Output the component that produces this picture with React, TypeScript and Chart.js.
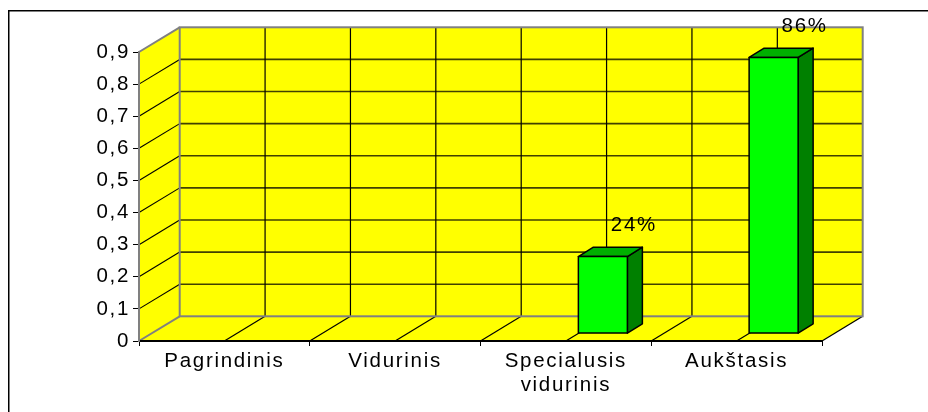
import { useEffect, useRef } from 'react';
import { Chart, registerables } from 'chart.js';

Chart.register(...registerables);

const categories: (string | string[])[] = ['Pagrindinis', 'Vidurinis', ['Specialusis', 'vidurinis'], 'Aukštasis'];
const values = [0, 0, 0.24, 0.86];
const valueLabels = ['', '', '24%', '86%'];
const yTickLabels = ['0', '0,1', '0,2', '0,3', '0,4', '0,5', '0,6', '0,7', '0,8', '0,9'];
const Y_MIN = 0;
const Y_MAX = 0.9;
const Y_STEP = 0.1;

const FONT_FAMILY = '"Liberation Sans", Arial, sans-serif';
const FONT_SIZE = 20.5;
const LETTER_SPACING = '1.7px';

// 3D projection styling
const DX = 40.7;
const DY = -24.7;
const BAR_SHIFT_X = 37;
const BAR_SHIFT_Y = -7.4;
const BAR_DX = 15;
const BAR_DY = -9.3;

const WALL = '#ffff00';
const WALL_EDGE = '#808080';

const threeD = {
  id: 'threeD',
  beforeDraw(chart: any) {
    const ctx: CanvasRenderingContext2D = chart.ctx;
    (ctx as any).letterSpacing = LETTER_SPACING;
    ctx.save();
    ctx.fillStyle = '#ffffff';
    ctx.fillRect(0, 0, chart.width, chart.height);
    // outer frame
    ctx.lineWidth = 1.5;
    ctx.strokeStyle = '#000000';
    ctx.beginPath();
    ctx.moveTo(8.75, chart.height + 5);
    ctx.lineTo(8.75, 10.75);
    ctx.lineTo(chart.width + 5, 10.75);
    ctx.stroke();

    const xs = chart.scales.x;
    const ys = chart.scales.y;
    const left = chart.chartArea.left;
    const right = chart.chartArea.right;
    const yb = ys.getPixelForValue(Y_MIN);
    const yt = ys.getPixelForValue(Y_MAX);

    // walls fill
    ctx.fillStyle = WALL;
    ctx.beginPath();
    ctx.moveTo(left, yb);
    ctx.lineTo(left, yt);
    ctx.lineTo(left + DX, yt + DY);
    ctx.lineTo(right + DX, yt + DY);
    ctx.lineTo(right + DX, yb + DY);
    ctx.lineTo(right, yb);
    ctx.closePath();
    ctx.fill();

    // half-category positions
    const n = categories.length;
    const halfs: number[] = [];
    for (let i = 0; i < n; i++) {
      const c = xs.getPixelForTick(i);
      const prev = i === 0 ? left : (xs.getPixelForTick(i - 1) + c) / 2;
      halfs.push(prev, c);
    }
    halfs.push(right);

    // horizontal gridlines on back wall and left wall diagonals
    for (let v = Y_STEP; v < Y_MAX - 1e-6; v += Y_STEP) {
      const y = ys.getPixelForValue(v);
      ctx.strokeStyle = '#404000';
      ctx.lineWidth = 1.6;
      ctx.beginPath();
      ctx.moveTo(left + DX, y + DY);
      ctx.lineTo(right + DX, y + DY);
      ctx.stroke();
      ctx.strokeStyle = '#000000';
      ctx.lineWidth = 1.1;
      ctx.beginPath();
      ctx.moveTo(left, y);
      ctx.lineTo(left + DX, y + DY);
      ctx.stroke();
    }

    // vertical lines on back wall and floor diagonals
    ctx.strokeStyle = '#000000';
    ctx.lineWidth = 1.2;
    for (let k = 1; k < halfs.length - 1; k++) {
      const x = halfs[k];
      ctx.beginPath();
      ctx.moveTo(x + DX, yt + DY);
      ctx.lineTo(x + DX, yb + DY);
      ctx.stroke();
      ctx.beginPath();
      ctx.moveTo(x, yb);
      ctx.lineTo(x + DX, yb + DY);
      ctx.stroke();
    }
    // floor right edge
    ctx.lineWidth = 1.3;
    ctx.beginPath();
    ctx.moveTo(right, yb);
    ctx.lineTo(right + DX, yb + DY);
    ctx.stroke();

    // gray edges
    ctx.strokeStyle = WALL_EDGE;
    ctx.lineWidth = 2;
    ctx.strokeRect(left + DX, yt + DY, right - left, yb - yt);
    ctx.beginPath();
    ctx.moveTo(left, yt);
    ctx.lineTo(left + DX, yt + DY);
    ctx.moveTo(left, yb);
    ctx.lineTo(left + DX, yb + DY);
    ctx.stroke();
    ctx.restore();
  },
  afterDatasetsDraw(chart: any) {
    const ctx: CanvasRenderingContext2D = chart.ctx;
    const meta = chart.getDatasetMeta(0);
    ctx.save();
    (ctx as any).letterSpacing = LETTER_SPACING;
    meta.data.forEach((el: any, i: number) => {
      if (!values[i]) return;
      const p = el.getProps(['x', 'y', 'base', 'width'], true);
      const x1 = p.x - p.width / 2 + BAR_SHIFT_X;
      const x2 = p.x + p.width / 2 + BAR_SHIFT_X;
      const yTop = p.y + BAR_SHIFT_Y;
      const yBase = p.base + BAR_SHIFT_Y;
      ctx.lineWidth = 1.5;
      ctx.lineJoin = 'round';
      ctx.strokeStyle = '#000000';
      // side
      ctx.fillStyle = '#008000';
      ctx.beginPath();
      ctx.moveTo(x2, yTop);
      ctx.lineTo(x2 + BAR_DX, yTop + BAR_DY);
      ctx.lineTo(x2 + BAR_DX, yBase + BAR_DY);
      ctx.lineTo(x2, yBase);
      ctx.closePath();
      ctx.fill();
      ctx.stroke();
      // top
      ctx.fillStyle = '#00b000';
      ctx.beginPath();
      ctx.moveTo(x1, yTop);
      ctx.lineTo(x1 + BAR_DX, yTop + BAR_DY);
      ctx.lineTo(x2 + BAR_DX, yTop + BAR_DY);
      ctx.lineTo(x2, yTop);
      ctx.closePath();
      ctx.fill();
      ctx.stroke();
      // front
      ctx.fillStyle = '#00ff00';
      ctx.fillRect(x1, yTop, x2 - x1, yBase - yTop);
      ctx.strokeRect(x1, yTop, x2 - x1, yBase - yTop);
      // label
      if (valueLabels[i]) {
        ctx.fillStyle = '#000000';
        ctx.font = `${FONT_SIZE}px ${FONT_FAMILY}`;
        ctx.textAlign = 'center';
        ctx.textBaseline = 'alphabetic';
        ctx.fillText(valueLabels[i], (x1 + x2) / 2 + 31, yTop + BAR_DY - 16);
      }
    });
    ctx.restore();
  },
};

export default function App() {
  const ref = useRef<HTMLCanvasElement>(null);
  useEffect(() => {
    if (!ref.current) return;
    const chart = new Chart(ref.current, {
      type: 'bar',
      data: {
        labels: categories as any,
        datasets: [
          {
            data: values,
            backgroundColor: 'rgba(0,0,0,0)',
            borderWidth: 0,
            categoryPercentage: 1,
            barPercentage: 0.287,
          },
        ],
      },
      options: {
        animation: false,
        responsive: false,
        devicePixelRatio: 1,
        events: [],
        layout: { padding: { left: 0, top: 52, right: 106, bottom: 0 } },
        plugins: {
          legend: { display: false },
          title: { display: false },
          tooltip: { enabled: false },
        },
        scales: {
          x: {
            afterFit: (s: any) => {
              s.height = 71;
            },
            grid: {
              offset: true,
              drawOnChartArea: false,
              drawTicks: true,
              tickLength: 5,
              color: '#000000',
              lineWidth: 1,
            },
            border: { display: true, color: '#000000', width: 2 },
            ticks: {
              color: '#000000',
              padding: 4,
              maxRotation: 0,
              autoSkip: false,
              font: { family: FONT_FAMILY, size: FONT_SIZE, lineHeight: 1.15 },
            },
          },
          y: {
            min: Y_MIN,
            max: Y_MAX,
            afterFit: (s: any) => {
              s.width = 139;
            },
            grid: {
              drawOnChartArea: false,
              drawTicks: true,
              tickLength: 6,
              color: '#000000',
              lineWidth: 1,
            },
            border: { display: true, color: WALL_EDGE, width: 2 },
            ticks: {
              stepSize: Y_STEP,
              color: '#000000',
              padding: 3,
              font: { family: FONT_FAMILY, size: FONT_SIZE },
              callback: (_v: any, i: number) => yTickLabels[i],
            },
          },
        },
      },
      plugins: [threeD],
    });
    return () => chart.destroy();
  }, []);
  return (
    <div style={{ position: 'absolute', left: 0, top: 0, width: 928, height: 412 }}>
      <canvas ref={ref} width={928} height={412} style={{ display: 'block' }} />
    </div>
  );
}
